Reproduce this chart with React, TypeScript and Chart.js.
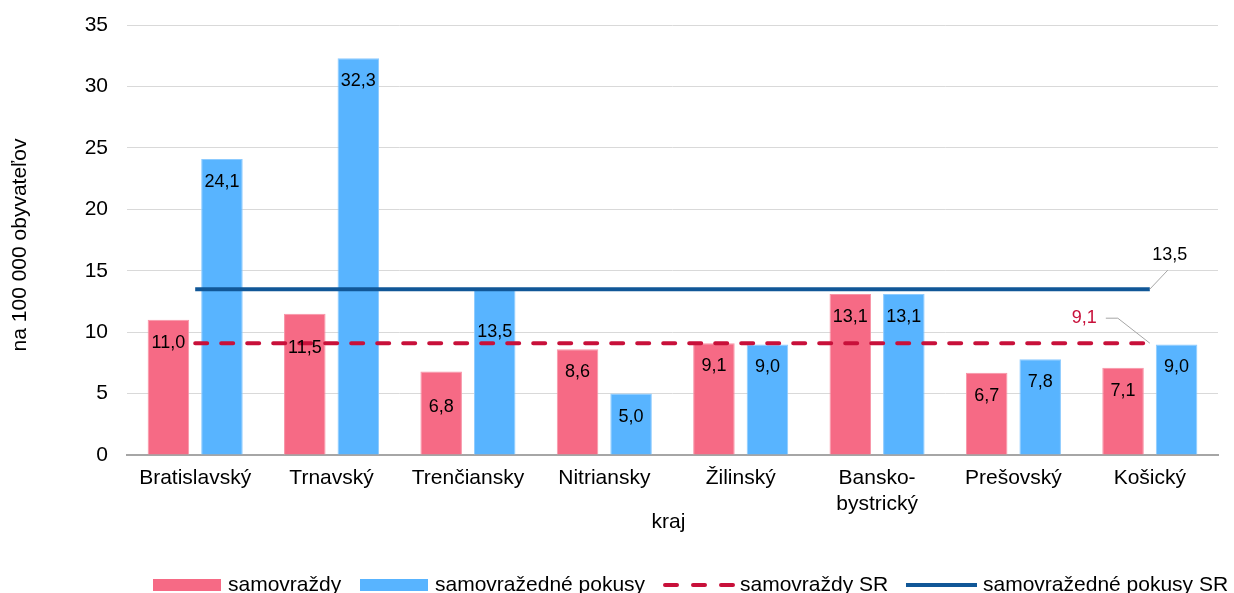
import React, { useEffect, useRef } from 'react';
import { Chart, registerables } from 'chart.js';

Chart.register(...registerables);

// ---- data ----
const categories: (string | string[])[] = [
  'Bratislavský',
  'Trnavský',
  'Trenčiansky',
  'Nitriansky',
  'Žilinský',
  ['Bansko-', 'bystrický'],
  'Prešovský',
  'Košický',
];
const samovrazdy = [11.0, 11.5, 6.8, 8.6, 9.1, 13.1, 6.7, 7.1];
const samovrazednePokusy = [24.1, 32.3, 13.5, 5.0, 9.0, 13.1, 7.8, 9.0];
const samovrazdySR = [9.1, 9.1, 9.1, 9.1, 9.1, 9.1, 9.1, 9.1];
const samovrazednePokusySR = [13.5, 13.5, 13.5, 13.5, 13.5, 13.5, 13.5, 13.5];
const seriesNames = ['samovraždy', 'samovražedné pokusy', 'samovraždy SR', 'samovražedné pokusy SR'];
const yTitle = 'na 100 000 obyvateľov';
const xTitle = 'kraj';

// ---- styles ----
const FONT = "'Liberation Sans', Arial, sans-serif";
const RED = '#F66A85';
const RED_EDGE = '#F894A7';
const BLUE = '#58B4FF';
const BLUE_EDGE = '#8CCBFF';
const CRIMSON = '#C8103A';
const NAVY = '#115797';

const fmt = (v: number) => v.toFixed(1).replace('.', ',');

// label vertical offsets below bar top (px); a few are moved to avoid the lines
const labelShift: Record<string, number> = { '0-1': 34, '0-2': 36, '1-2': 43 };

const decorPlugin = {
  id: 'decor',
  afterDatasetsDraw(chart: any) {
    const ctx = chart.ctx as CanvasRenderingContext2D;
    ctx.save();
    ctx.font = `18px ${FONT}`;
    ctx.fillStyle = '#000';
    ctx.textAlign = 'center';
    ctx.textBaseline = 'middle';
    [0, 1].forEach((di) => {
      const meta = chart.getDatasetMeta(di);
      const values = chart.data.datasets[di].data as number[];
      meta.data.forEach((bar: any, i: number) => {
        const s = labelShift[`${di}-${i}`] ?? 23;
        ctx.fillText(fmt(values[i]), bar.x, bar.y + s);
      });
    });

    // end labels for the SR lines
    const m3 = chart.getDatasetMeta(3);
    const p3 = m3.data[m3.data.length - 1];
    const v3 = (chart.data.datasets[3].data as number[])[m3.data.length - 1];
    ctx.strokeStyle = '#A6A6A6';
    ctx.lineWidth = 1;
    ctx.beginPath();
    ctx.moveTo(p3.x, p3.y);
    ctx.lineTo(p3.x + 18, p3.y - 19);
    ctx.stroke();
    ctx.fillStyle = '#000';
    ctx.textAlign = 'center';
    ctx.fillText(fmt(v3), p3.x + 20, p3.y - 34);

    const m2 = chart.getDatasetMeta(2);
    const p2 = m2.data[m2.data.length - 1];
    const v2 = (chart.data.datasets[2].data as number[])[m2.data.length - 1];
    ctx.beginPath();
    ctx.moveTo(p2.x - 44, p2.y - 25);
    ctx.lineTo(p2.x - 32, p2.y - 25);
    ctx.lineTo(p2.x, p2.y);
    ctx.stroke();
    ctx.fillStyle = CRIMSON;
    ctx.textAlign = 'right';
    ctx.fillText(fmt(v2), p2.x - 53, p2.y - 25);
    ctx.restore();
  },
  afterDraw(chart: any) {
    const ctx = chart.ctx as CanvasRenderingContext2D;
    const area = chart.chartArea;
    ctx.save();
    ctx.fillStyle = '#000';
    ctx.font = `21px ${FONT}`;
    ctx.textBaseline = 'middle';
    ctx.textAlign = 'center';
    // y title
    ctx.save();
    ctx.translate(20, (area.top + area.bottom) / 2 + 5);
    ctx.rotate(-Math.PI / 2);
    ctx.fillText(yTitle, 0, 0);
    ctx.restore();
    // x title
    ctx.fillText(xTitle, (area.left + area.right) / 2 - 4, 522);

    // legend
    const ly = 585;
    ctx.textAlign = 'left';
    ctx.fillStyle = RED;
    ctx.fillRect(153, ly - 6, 68, 12);
    ctx.fillStyle = '#000';
    ctx.fillText(seriesNames[0], 228, ly);
    ctx.fillStyle = BLUE;
    ctx.fillRect(360, ly - 6, 68, 12);
    ctx.fillStyle = '#000';
    ctx.fillText(seriesNames[1], 435, ly);

    ctx.lineWidth = 4;
    ctx.strokeStyle = CRIMSON;
    ctx.lineCap = 'round';
    ctx.setLineDash([12, 16]);
    ctx.beginPath();
    ctx.moveTo(665, ly);
    ctx.lineTo(733, ly);
    ctx.stroke();
    ctx.setLineDash([]);
    ctx.lineCap = 'butt';
    ctx.fillText(seriesNames[2], 740, ly);

    ctx.strokeStyle = NAVY;
    ctx.beginPath();
    ctx.moveTo(906, ly);
    ctx.lineTo(977, ly);
    ctx.stroke();
    ctx.fillText(seriesNames[3], 983, ly);
    ctx.restore();
  },
};

export default function App() {
  const ref = useRef<HTMLCanvasElement | null>(null);

  useEffect(() => {
    if (!ref.current) return;
    const chart = new Chart(ref.current, {
      type: 'bar',
      data: {
        labels: categories,
        datasets: [
          {
            type: 'bar',
            label: seriesNames[0],
            data: samovrazdy,
            backgroundColor: RED,
            borderColor: RED_EDGE,
            borderWidth: 1,
            order: 2,
            categoryPercentage: 0.785,
            barPercentage: 0.776,
          },
          {
            type: 'bar',
            label: seriesNames[1],
            data: samovrazednePokusy,
            backgroundColor: BLUE,
            borderColor: BLUE_EDGE,
            borderWidth: 1,
            order: 2,
            categoryPercentage: 0.785,
            barPercentage: 0.776,
          },
          {
            type: 'line',
            label: seriesNames[2],
            data: samovrazdySR,
            borderColor: CRIMSON,
            borderWidth: 4,
            borderDash: [12, 14],
            borderCapStyle: 'round',
            pointRadius: 0,
            fill: false,
            order: 1,
          } as any,
          {
            type: 'line',
            label: seriesNames[3],
            data: samovrazednePokusySR,
            borderColor: NAVY,
            borderWidth: 4,
            pointRadius: 0,
            fill: false,
            order: 1,
          } as any,
        ],
      },
      options: {
        responsive: false,
        animation: false,
        devicePixelRatio: 1,
        layout: { padding: { left: 0, right: 16, top: 25, bottom: 0 } },
        plugins: {
          legend: { display: false },
          tooltip: { enabled: false },
        },
        scales: {
          x: {
            grid: { display: false, drawTicks: false },
            border: { display: true, color: '#A6A6A6', width: 2 },
            ticks: {
              font: { family: FONT, size: 21 },
              color: '#000',
              padding: 11,
              maxRotation: 0,
              autoSkip: false,
            },
            afterFit: (s: any) => {
              s.height = 138;
            },
          },
          y: {
            min: 0,
            max: 35,
            ticks: {
              stepSize: 5,
              font: { family: FONT, size: 21 },
              color: '#000',
              padding: 19,
            },
            grid: { color: '#D9D9D9', lineWidth: 1, drawTicks: false },
            border: { display: false },
            afterFit: (s: any) => {
              s.width = 127;
              s.paddingTop = 0;
              s.paddingBottom = 0;
            },
          },
        },
      },
      plugins: [decorPlugin],
    });
    return () => chart.destroy();
  }, []);

  return (
    <div style={{ position: 'fixed', left: 0, top: 0, width: 1234, height: 593, background: '#fff' }}>
      <canvas ref={ref} width={1234} height={593} style={{ display: 'block' }} />
    </div>
  );
}
